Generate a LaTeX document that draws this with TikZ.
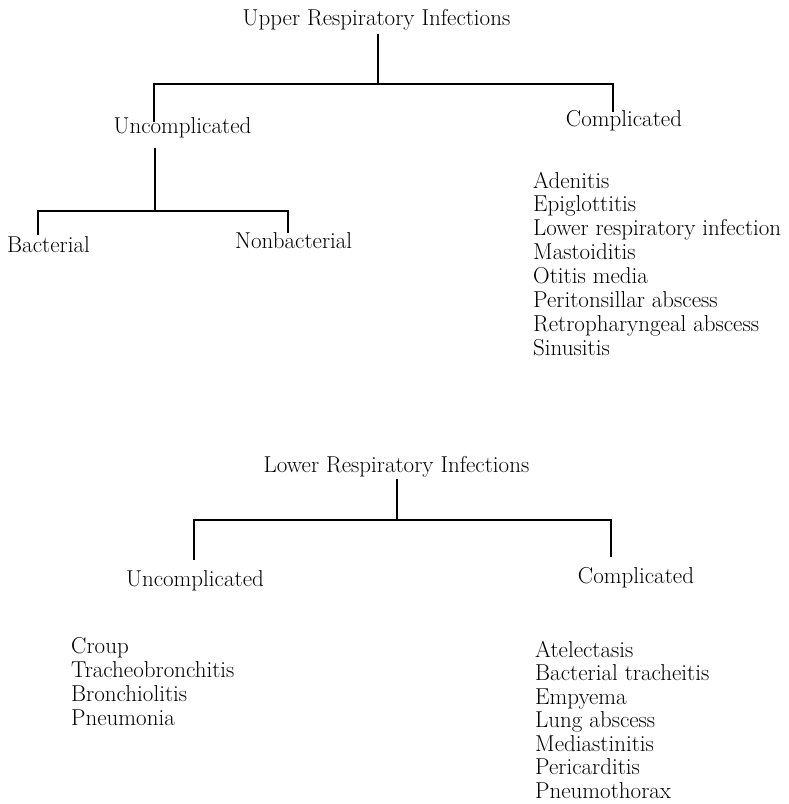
\documentclass[tikz,border=0pt]{standalone}
\tikzset{
  br/.style={line width=1.5pt},
  lb/.style={anchor=base,inner sep=0pt,font=\fontsize{23}{24}\selectfont},
  it/.style={lb,anchor=base west},
}
\begin{document}
\begin{tikzpicture}[x=1pt,y=-1pt]
\useasboundingbox (0,0) rectangle (788,804);
% upper respiratory tree
\node[lb] (ut) at (376.5,25) {Upper Respiratory Infections};
\node[lb] (uu) at (182.5,133) {Uncomplicated}; \node[lb] (uc) at (624,126) {Complicated};
\node[it] (ub) at (7,252) {Bacterial}; \node[it] (un) at (235,248) {Nonbacterial};
\coordinate (uj) at (378,84); \coordinate (uk) at (155,211);
\draw[br] ([xshift=1.5pt,yshift=-4.5pt]ut.south) -- (uj);
\draw[br] ([xshift=-28.5pt,yshift=-5pt]uu.north) |- (uj) -| ([xshift=-11pt,yshift=-2pt]uc.north);
\draw[br] ([xshift=-27.5pt,yshift=-10.5pt]uu.south) -- (uk);
\draw[br] ([xshift=31pt,yshift=1pt]ub.north west) |- (uk) -| ([xshift=53pt,yshift=-1pt]un.north west);
\foreach \t [count=\i] in {Adenitis,Epiglottitis,Lower respiratory infection,Mastoiditis,
  Otitis media,Peritonsillar abscess,Retropharyngeal abscess,Sinusitis}
  \node[it] (ul\i) at (533,{188+23.86*(\i-1)}) {\t};
% lower respiratory tree
\node[lb] (lt) at (396.5,472) {Lower Respiratory Infections};
\node[lb] (lu) at (195,586) {Uncomplicated}; \node[lb] (lc) at (636,583) {Complicated};
\coordinate (lj) at (397,520);
\draw[br] ([xshift=0.5pt,yshift=-2.5pt]lt.south) -- (lj);
\draw[br] ([xshift=-1pt,yshift=10pt]lu.north) |- (lj) -| ([xshift=-25pt,yshift=10pt]lc.north);
\foreach \t [count=\i] in {Croup,Tracheobronchitis,Bronchiolitis,Pneumonia}
  \node[it] (ll\i) at (71,{653+24*(\i-1)}) {\t};
\foreach \t [count=\i] in {Atelectasis,Bacterial tracheitis,Empyema,Lung abscess,
  Mediastinitis,Pericarditis,Pneumothorax}
  \node[it] (lk\i) at (535,{657+23.5*(\i-1)}) {\t};
\end{tikzpicture}
\end{document}
